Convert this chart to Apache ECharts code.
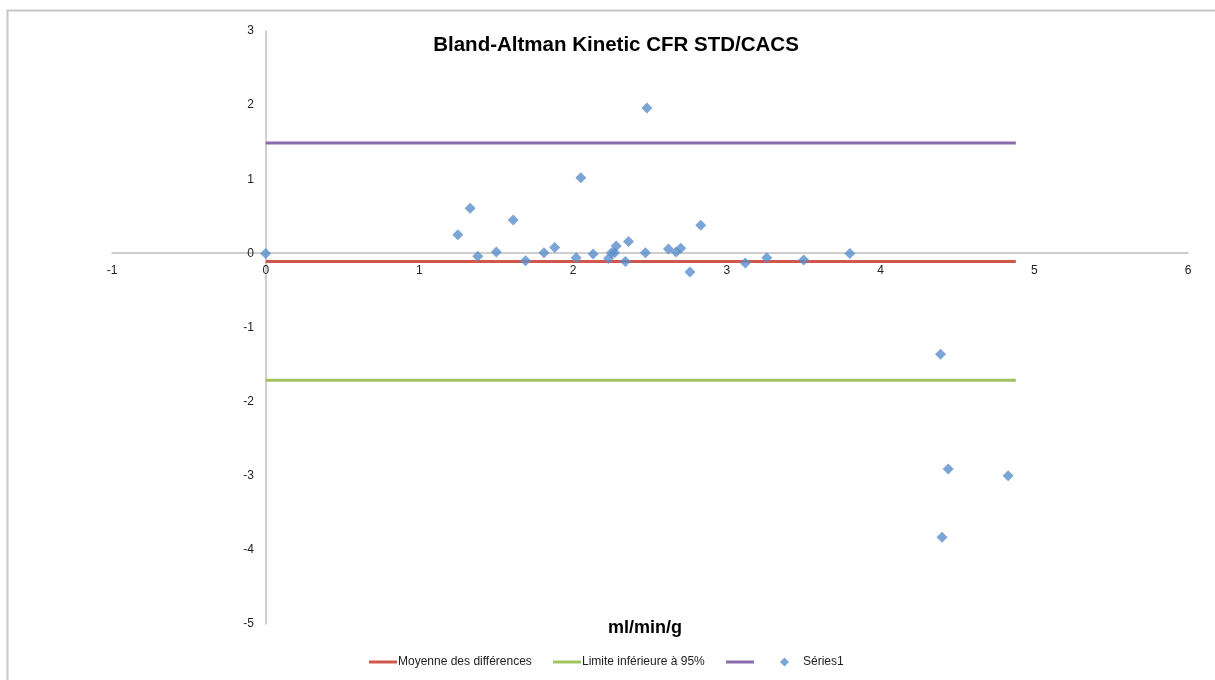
<!DOCTYPE html>
<html lang="fr">
<head>
    <meta charset="UTF-8">
    <script src="https://cdn.jsdelivr.net/npm/echarts@6/dist/echarts.min.js"></script>
    <style>
        body { margin: 0; background: #fff; }
        #chart { width: 1215px; height: 680px; }
    </style>
</head>
<body>
    <div id="chart"></div>
    <script>
        // Bland-Altman points: [mean, difference]
        var points = [
            [0, 0], [1.25, 0.25], [1.33, 0.61], [1.38, -0.04], [1.50, 0.02],
            [1.61, 0.45], [1.69, -0.10], [1.81, 0.01], [1.88, 0.08], [2.02, -0.06],
            [2.05, 1.02], [2.13, -0.01], [2.23, -0.07], [2.25, 0.01], [2.27, 0.01],
            [2.28, 0.10], [2.34, -0.11], [2.36, 0.16], [2.47, 0.01], [2.48, 1.96],
            [2.62, 0.06], [2.67, 0.02], [2.70, 0.07], [2.76, -0.25], [2.83, 0.38],
            [3.12, -0.13], [3.26, -0.06], [3.50, -0.09], [3.80, 0.00],
            [4.39, -1.36], [4.44, -2.91], [4.40, -3.83], [4.83, -3.00]
        ];
        var lineX = [0, 4.88];
        var meanDiff = -0.11;
        var lowerLimit = -1.71;
        var upperLimit = 1.49;

        var font = 'Liberation Sans';
        var axisGray = '#bfbfbf';

        var chart = echarts.init(document.getElementById('chart'));

        function hline(name, y, color) {
            return {
                name: name,
                type: 'line',
                data: lineX.map(function (x) { return [x, y]; }),
                symbol: 'none',
                lineStyle: { color: color, width: 3 },
                itemStyle: { color: color },
                silent: true,
                z: 2
            };
        }

        function legendAt(name, left, icon) {
            var dia = icon === 'diamond';
            return {
                data: [{ name: name, icon: icon }],
                left: left,
                top: 656,
                padding: 0,
                itemWidth: dia ? 9 : 28,
                itemHeight: dia ? 9 : 3,
                itemGap: 0,
                textStyle: { fontFamily: font, fontSize: 12, color: '#222', padding: dia ? [0, 0, 0, 9] : [0, 0, 0, -4] },
                selectedMode: false
            };
        }

        var option = {
            animation: false,
            backgroundColor: '#fff',
            title: [{
                text: 'Bland-Altman Kinetic CFR STD/CACS',
                left: 611,
                textAlign: 'center',
                top: 30,
                textStyle: { fontFamily: font, fontSize: 20.5, fontWeight: 'bold', color: '#000' }
            }, {
                text: 'ml/min/g',
                left: 640,
                textAlign: 'center',
                top: 614,
                textStyle: { fontFamily: font, fontSize: 18, fontWeight: 'bold', color: '#000' }
            }],
            graphic: [{
                type: 'polyline',
                shape: { points: [[7.5, 680], [7.5, 10.5], [1215, 10.5]] },
                style: { stroke: '#c8c8c8', lineWidth: 2, fill: null }
            }],
            legend: [
                legendAt('Moyenne des différences', 369, 'rect'),
                legendAt('Limite inférieure à 95%', 553, 'rect'),
                legendAt('\u00a0', 726, 'rect'),
                legendAt('Séries1', 780, 'diamond')
            ],
            grid: { left: 112, right: 27, top: 31, bottom: 56 },
            xAxis: {
                type: 'value',
                min: -1, max: 6, interval: 1,
                position: 'bottom',
                offset: -371,
                axisLine: { onZero: false, lineStyle: { color: axisGray, width: 1.5 } },
                axisTick: { show: false },
                splitLine: { show: false },
                axisLabel: { fontFamily: font, fontSize: 12, color: '#222', margin: 12 }
            },
            yAxis: {
                type: 'value',
                min: -5, max: 3, interval: 1,
                position: 'left',
                offset: -154,
                axisLine: { onZero: false, lineStyle: { color: axisGray, width: 1.5 } },
                axisTick: { show: false },
                splitLine: { show: false },
                axisLabel: { fontFamily: font, fontSize: 12, color: '#222', margin: 12 }
            },
            series: [
                hline('Moyenne des différences', meanDiff, '#d0574e'),
                hline('Limite inférieure à 95%', lowerLimit, '#a2c260'),
                hline('\u00a0', upperLimit, '#8a6bac'),
                {
                    name: 'Séries1',
                    type: 'scatter',
                    data: points,
                    symbol: 'diamond',
                    symbolSize: 11,
                    itemStyle: { color: '#5a8ecb' },
                    z: 3
                }
            ]
        };
        chart.setOption(option);
    </script>
</body>
</html>
